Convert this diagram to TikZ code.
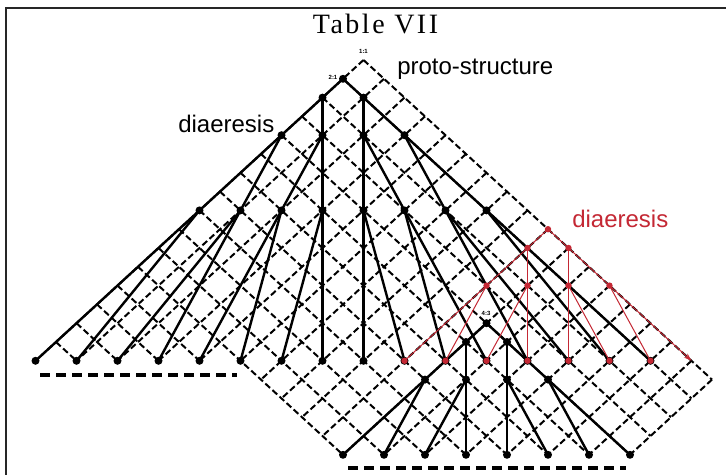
\documentclass[tikz,border=0pt]{standalone}
\usepackage{fontspec}
\setmainfont{Liberation Serif}
\newfontfamily\labfont{Liberation Sans}
\usetikzlibrary{arrows.meta}
\definecolor{dred}{RGB}{196,40,52}
\begin{document}
\begin{tikzpicture}[x=0.75pt,y=-0.75pt,
  lat/.style={line width=1.5pt,dash pattern=on 4.8pt off 2.4pt},
  treeline/.style={line width=1.8pt},
  redline/.style={dred,line width=0.75pt},
  ellip/.style={line width=2.3pt,dash pattern=on 7.5pt off 4.5pt},
  frameline/.style={line width=1.5pt,black!85},
  dotb/.style={fill=black},
  dotr/.style={fill=dred},
  tiny/.style={font=\labfont\fontsize{4.5pt}{5pt}\selectfont\bfseries,inner sep=0pt},
  lab/.style={font=\labfont\fontsize{18pt}{20pt}\selectfont,inner sep=0pt,anchor=base west}]
\useasboundingbox (0,0) rectangle (726,475);
\fill[white] (0,0) rectangle (726,475);
% frame
\coordinate (fbl) at (6,475); \coordinate (ftl) at (6,8); \coordinate (ftr) at (726,8);
\draw[frameline] (fbl) -- (ftl) -- (ftr);
% dashed lattice, lines of constant p
\foreach \p in {0,...,16}{
  \pgfmathtruncatemacro\qm{\p<5 ? 17 : (\p<12 ? 21-\p : 16-\p)}
  \ifnum\qm>0
    \pgfmathsetmacro\xa{363.5+(0-\p)*20.5}
    \pgfmathsetmacro\ya{60+(\p)*18.8}
    \pgfmathsetmacro\xb{363.5+(\qm-\p)*20.5}
    \pgfmathsetmacro\yb{60+(\p+\qm)*18.8}
    \draw[lat] (\xa,\ya) -- (\xb,\yb);
  \fi
}
% lines of constant q
\foreach \q in {0,...,17}{
  \pgfmathtruncatemacro\pmx{\q<6 ? 16-\q : (\q<11 ? 11 : 21-\q)}
  \pgfmathsetmacro\xa{363.5+(\q)*20.5}
  \pgfmathsetmacro\ya{60+(\q)*18.8}
  \pgfmathsetmacro\xb{363.5+(\q-\pmx)*20.5}
  \pgfmathsetmacro\yb{60+(\pmx+\q)*18.8}
  \draw[lat] (\xa,\ya) -- (\xb,\yb);
}
% apex
\coordinate (apex) at (363.5,60);
% first tree nodes
\foreach \k in {1,...,5}{
  \pgfmathtruncatemacro\nn{2^(\k-1)-1}
  \foreach \i in {0,...,\nn}{
    \pgfmathtruncatemacro\pp{2^(\k-1)-\i}
    \pgfmathsetmacro\xx{363.5+(\i-\pp)*20.5}
    \pgfmathsetmacro\yy{60+(\pp+\i)*18.8}
    \coordinate (a-\k-\i) at (\xx,\yy);
  }
}
% second tree nodes
\foreach \k in {1,...,4}{
  \pgfmathtruncatemacro\nn{2^(\k-1)-1}
  \foreach \i in {0,...,\nn}{
    \pgfmathtruncatemacro\pp{3+2^(\k-1)-\i}
    \pgfmathtruncatemacro\qq{10+\i}
    \pgfmathsetmacro\xx{363.5+(\qq-\pp)*20.5}
    \pgfmathsetmacro\yy{60+(\pp+\qq)*18.8}
    \coordinate (b-\k-\i) at (\xx,\yy);
  }
}
% red tree nodes
\foreach \k in {1,...,4}{
  \pgfmathtruncatemacro\nn{2^(\k-1)-1}
  \foreach \i in {0,...,\nn}{
    \pgfmathtruncatemacro\pp{2^(\k-1)-1-\i}
    \pgfmathtruncatemacro\qq{9+\i}
    \pgfmathsetmacro\xx{363.5+(\qq-\pp)*20.5}
    \pgfmathsetmacro\yy{60+(\pp+\qq)*18.8}
    \coordinate (r-\k-\i) at (\xx,\yy);
  }
}
% first tree edges
\foreach \k in {1,...,4}{
  \pgfmathtruncatemacro\nn{2^(\k-1)-1}
  \pgfmathtruncatemacro\kk{\k+1}
  \foreach \i in {0,...,\nn}{
    \pgfmathtruncatemacro\ca{2*\i}
    \pgfmathtruncatemacro\cb{2*\i+1}
    \draw[treeline] (a-\k-\i) -- (a-\kk-\ca);
    \draw[treeline] (a-\k-\i) -- (a-\kk-\cb);
  }
}
% second tree edges
\foreach \k in {1,...,3}{
  \pgfmathtruncatemacro\nn{2^(\k-1)-1}
  \pgfmathtruncatemacro\kk{\k+1}
  \foreach \i in {0,...,\nn}{
    \pgfmathtruncatemacro\ca{2*\i}
    \pgfmathtruncatemacro\cb{2*\i+1}
    \draw[treeline] (b-\k-\i) -- (b-\kk-\ca);
    \draw[treeline] (b-\k-\i) -- (b-\kk-\cb);
  }
}
% black dots
\foreach \k in {1,...,5}{
  \pgfmathtruncatemacro\nn{2^(\k-1)-1}
  \foreach \i in {0,...,\nn}{ \fill[dotb] (a-\k-\i) circle (3pt); }
}
\foreach \k in {1,...,4}{
  \pgfmathtruncatemacro\nn{2^(\k-1)-1}
  \foreach \i in {0,...,\nn}{ \fill[dotb] (b-\k-\i) circle (3pt); }
}
% red tree edges
\foreach \k in {1,...,3}{
  \pgfmathtruncatemacro\nn{2^(\k-1)-1}
  \pgfmathtruncatemacro\kk{\k+1}
  \foreach \i in {0,...,\nn}{
    \pgfmathtruncatemacro\ca{2*\i}
    \pgfmathtruncatemacro\cb{2*\i+1}
    \draw[redline] (r-\k-\i) -- (r-\kk-\ca);
    \ifnum\cb=7
      \draw[redline,-{Stealth[length=6pt,width=4pt]}] (r-\k-\i) -- (r-\kk-\cb);
    \else
      \draw[redline] (r-\k-\i) -- (r-\kk-\cb);
    \fi
  }
}
\foreach \k in {1,...,4}{
  \pgfmathtruncatemacro\nn{2^(\k-1)-1}
  \foreach \i in {0,...,\nn}{
    \ifnum\k=4 \ifnum\i=7 \else \fill[dotr] (r-\k-\i) circle (2.4pt); \fi
    \else \fill[dotr] (r-\k-\i) circle (2.4pt); \fi
  }
}
% continuation marks
\coordinate (e1a) at (40,375); \coordinate (e1b) at (237,375);
\coordinate (e2a) at (348,468); \coordinate (e2b) at (626,468);
\draw[ellip] (e1a) -- (e1b);
\draw[ellip] (e2a) -- (e2b);
% tiny ratio labels
\node[tiny] (l11) at (363.5,51) {1:1};
\node[tiny] (l21) at (333,77) {2:1};
\node[tiny] (l43) at (486,313) {4:3};
% labels
\node[font=\fontsize{21pt}{23pt}\selectfont\addfontfeature{LetterSpace=9},inner sep=0pt,anchor=base] (title) at (375.5,33) {Table VII};
\node[lab] (proto) at (397,74) {proto-structure};
\node[lab] (dia1) at (178,132) {diaeresis};
\node[lab,text=dred] (dia2) at (572,227) {diaeresis};
\end{tikzpicture}
\end{document}
